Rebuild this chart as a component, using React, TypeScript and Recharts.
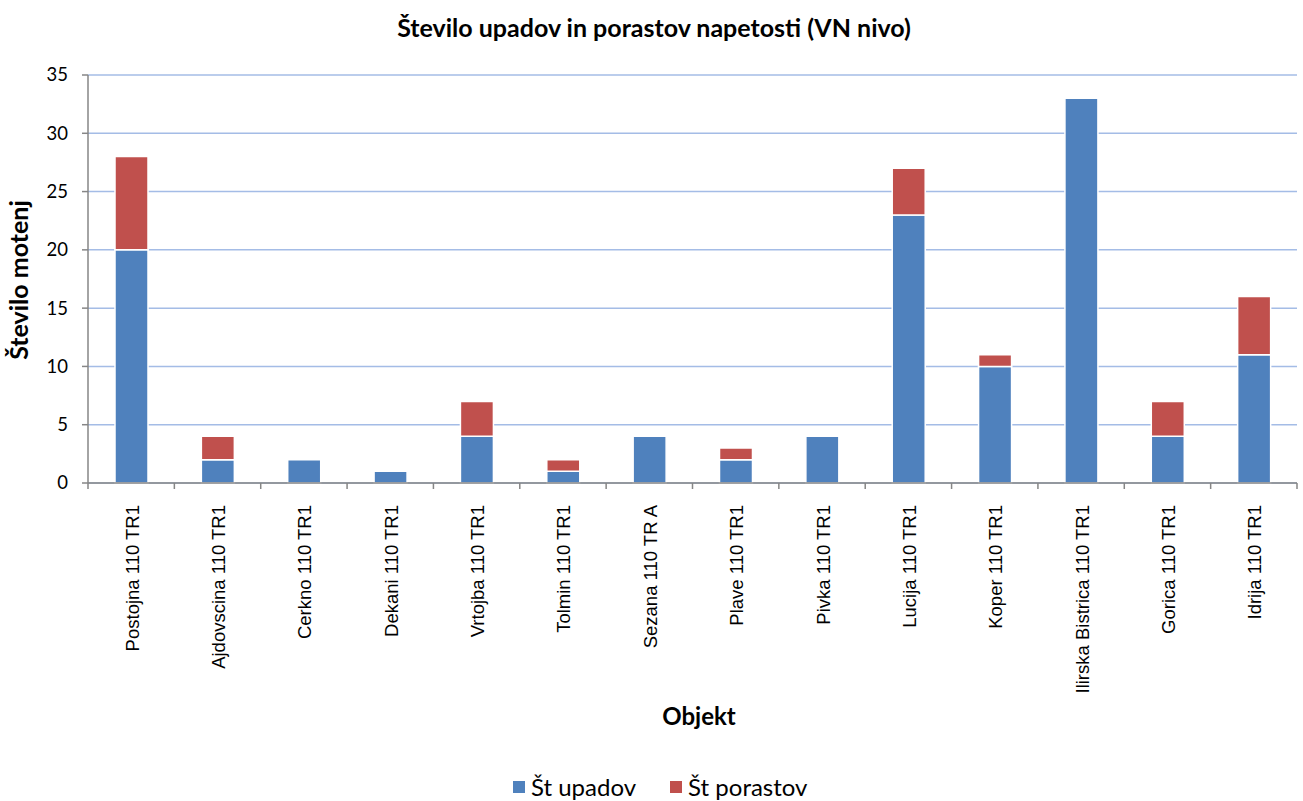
import { BarChart, Bar, XAxis, YAxis, CartesianGrid } from 'recharts'

const CATEGORIES = [
  'Postojna 110 TR1', 'Ajdovscina 110 TR1', 'Cerkno 110 TR1', 'Dekani 110 TR1',
  'Vrtojba 110 TR1', 'Tolmin 110 TR1', 'Sezana 110 TR A', 'Plave 110 TR1',
  'Pivka 110 TR1', 'Lucija 110 TR1', 'Koper 110 TR1', 'Ilirska Bistrica 110 TR1',
  'Gorica 110 TR1', 'Idrija 110 TR1',
]
const UPADI = [20, 2, 2, 1, 4, 1, 4, 2, 4, 23, 10, 33, 4, 11]
const PORASTI = [8, 2, 0, 0, 3, 1, 0, 1, 0, 4, 1, 0, 3, 5]
const Y_TICKS = [0, 5, 10, 15, 20, 25, 30, 35]

const BLUE = '#4f81bd'
const RED = '#c0504d'
const CALIBRI = 'Lato, "Open Sans", sans-serif'

const data = CATEGORIES.map((name, i) => ({
  name,
  upadi: UPADI[i],
  porasti: PORASTI[i],
}))

const PLOT_LEFT = 88
const PLOT_RIGHT = 1297
const BAND = (PLOT_RIGHT - PLOT_LEFT) / CATEGORIES.length

function XTick(props: any) {
  const { x, y, payload, index } = props
  const left = x - BAND / 2
  return (
    <g>
      <line x1={left} y1={y - 8} x2={left} y2={y - 2} stroke="#868686" strokeWidth={1.5} />
      {index === CATEGORIES.length - 1 && (
        <line x1={left + BAND} y1={y - 8} x2={left + BAND} y2={y - 2} stroke="#868686" strokeWidth={1.5} />
      )}
      <text
        transform={`translate(${x + 1},${y + 14}) rotate(-90)`}
        textAnchor="end"
        dy="0.35em"
        fontFamily='"Liberation Sans", Arial, sans-serif'
        fontSize={18.5}
        fill="#000"
      >
        {payload.value}
      </text>
    </g>
  )
}

function YTick(props: any) {
  const { x, y, payload } = props
  return (
    <text x={x - 12} y={y} textAnchor="end" dy="0.35em" fontFamily={CALIBRI} fontSize={18.5} fill="#000">
      {payload.value}
    </text>
  )
}

export default function App() {
  return (
    <div style={{ position: 'absolute', left: 0, top: 0, width: 1303, height: 801, background: '#fff' }}>
      <div
        style={{
          position: 'absolute', top: 12, left: 0, width: 1308, textAlign: 'center', lineHeight: '30px',
          fontFamily: CALIBRI, fontWeight: 700, fontSize: 25, color: '#000', whiteSpace: 'nowrap',
        }}
      >
        Število upadov in porastov napetosti (VN nivo)
      </div>
      <div
        style={{
          position: 'absolute', left: 18, top: 280, transform: 'translate(-50%, -50%) rotate(-90deg)',
          whiteSpace: 'nowrap', fontFamily: CALIBRI, fontWeight: 700, fontSize: 25, color: '#000',
        }}
      >
        Število motenj
      </div>
      <div
        style={{
          position: 'absolute', top: 701, left: 0, width: 1398, textAlign: 'center', lineHeight: '30px',
          fontFamily: CALIBRI, fontWeight: 700, fontSize: 24, color: '#000',
        }}
      >
        Objekt
      </div>
      <div
        style={{
          position: 'absolute', top: 773, left: 513, display: 'flex', alignItems: 'center',
          fontFamily: CALIBRI, fontSize: 24, lineHeight: '28px', color: '#000', whiteSpace: 'nowrap',
        }}
      >
        <span style={{ width: 12, height: 12, background: BLUE, marginRight: 6 }} />
        <span>Št upadov</span>
        <span style={{ width: 12, height: 12, background: RED, marginLeft: 34, marginRight: 6 }} />
        <span>Št porastov</span>
      </div>
      <BarChart
        width={1303}
        height={801}
        data={data}
        margin={{ top: 75, right: 6, left: 0, bottom: 98 }}
        barSize={33}
      >
        <CartesianGrid vertical={false} stroke="#a4bce6" strokeWidth={1.5} />
        <XAxis
          dataKey="name"
          interval={0}
          height={220}
          tickLine={false}
          axisLine={{ stroke: '#868686', strokeWidth: 1.5 }}
          tick={<XTick />}
        />
        <YAxis
          width={PLOT_LEFT}
          domain={[0, 35]}
          ticks={Y_TICKS}
          interval={0}
          tickSize={6}
          tickLine={{ stroke: '#868686', strokeWidth: 1.5 }}
          axisLine={{ stroke: '#868686', strokeWidth: 1.5 }}
          tick={<YTick />}
        />
        <Bar dataKey="upadi" stackId="a" fill={BLUE} stroke="#fff" strokeWidth={1.5} isAnimationActive={false} />
        <Bar dataKey="porasti" stackId="a" fill={RED} stroke="#fff" strokeWidth={1.5} isAnimationActive={false} />
      </BarChart>
    </div>
  )
}
